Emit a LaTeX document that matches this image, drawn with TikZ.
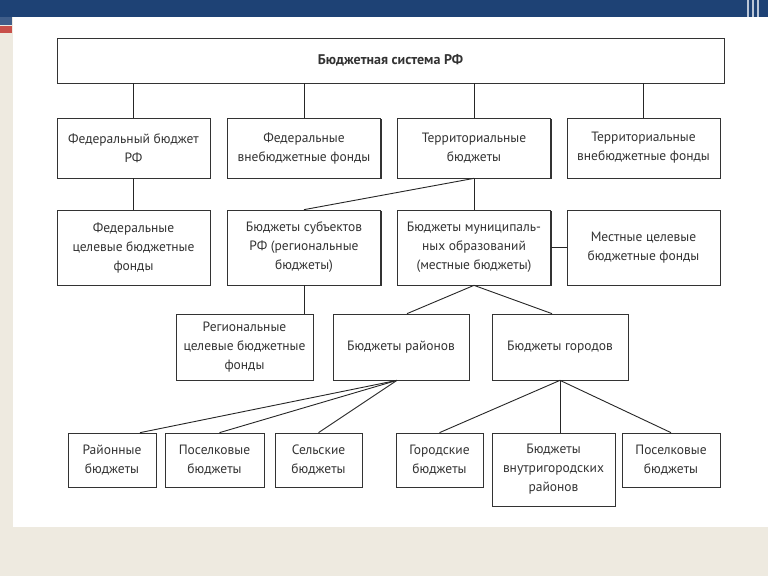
\documentclass[tikz,border=0pt]{standalone}
\usepackage{fontspec}
\setmainfont{PT Sans}
\usetikzlibrary{positioning, calc, shadows}
\definecolor{slidebg}{HTML}{EEEAE0}
\definecolor{slidebar}{HTML}{1E4275}
\definecolor{slidered}{HTML}{C8504A}
\tikzset{
  budget/.style = {draw=black!80, line width=0.7pt, fill=white, align=center,
                   font=\fontsize{13.5}{19}\selectfont, text=black!80,
                   inner sep=2pt,
                   drop shadow={shadow xshift=1.4pt, shadow yshift=-1.4pt,
                                fill=black!80, opacity=1}},
  link/.style   = {draw=black!85, line width=0.9pt}
}
\begin{document}
\begin{tikzpicture}[x=1pt, y=-1pt]
% Slide background
\fill[slidebg] (0,0) rectangle (768,576);
\fill[white] (13,17) rectangle (768,527);
\fill[slidebar] (0,0) rectangle (768,17);
\fill[slidebar!85] (0,17) rectangle (12,25);
\fill[slidered] (0,26) rectangle (12,33);
\foreach \x in {747,752,757} {
  \fill[white!70!slidebar] (\x,0) rectangle (\x+2,17);
}
\useasboundingbox (0,0) rectangle (768,576);

% Top level
\node[budget, minimum width=667pt, minimum height=45pt,
      font=\fontsize{14}{19}\selectfont\bfseries] (sys) at (390.5,60.5)
  {Бюджетная система РФ};

% First row
\foreach \x/\name/\txt in {133.5/fb/{Федеральный бюджет\\РФ},
                           304/fvf/{Федеральные\\внебюджетные фонды},
                           474/tb/{Территориальные\\бюджеты},
                           643.5/tvf/{Территориальные\\внебюджетные фонды}} {
  \node[budget, minimum width=153pt, minimum height=60pt] (\name) at (\x,148) {\txt};
  \draw[link] (\name.north) -- (\name.north |- sys.south);
}

% Second row
\foreach \x/\name/\txt in {133.5/ftf/{Федеральные\\целевые бюджетные\\фонды},
                           304/subj/{Бюджеты субъектов\\РФ (региональные\\бюджеты)},
                           474/mun/{Бюджеты муниципаль-\\ных образований\\(местные бюджеты)},
                           643.5/ltf/{Местные целевые\\бюджетные фонды}} {
  \node[budget, minimum width=153pt, minimum height=75pt] (\name) at (\x,247.5) {\txt};
}
\draw[link] (fb.south) -- (ftf.north);
\draw[link] (tb.south) -- (subj.north);
\draw[link] (tb.south) -- (mun.north);
\draw[link] (mun.east) -- (ltf.west);

% Third row
\node[budget, minimum width=137pt, minimum height=66pt] (rtf) at (244.5,347)
  {Региональные\\целевые бюджетные\\фонды};
\node[budget, minimum width=136pt, minimum height=66pt] (dist) at (401,347)
  {Бюджеты районов};
\node[budget, minimum width=136pt, minimum height=66pt] (city) at (560,347)
  {Бюджеты городов};
\draw[link] (subj.south) -- (subj.south |- rtf.north);
\draw[link] (mun.south) -- ([xshift=6pt]dist.north);
\draw[link] (mun.south) -- ([xshift=-8pt]city.north);

% Fourth row
\node[budget, minimum width=88pt, minimum height=54pt] (rayon) at (112,460)
  {Районные\\бюджеты};
\node[budget, minimum width=99pt, minimum height=54pt] (posel) at (214.5,460)
  {Поселковые\\бюджеты};
\node[budget, minimum width=87pt, minimum height=54pt] (selo) at (318.5,460)
  {Сельские\\бюджеты};
\node[budget, minimum width=87pt, minimum height=54pt] (gorod) at (439.5,460)
  {Городские\\бюджеты};
\node[budget, minimum width=123pt, minimum height=73pt] (vnutr) at (553.5,469.5)
  {Бюджеты\\внутригородских\\районов};
\node[budget, minimum width=98pt, minimum height=54pt] (posel2) at (671,460)
  {Поселковые\\бюджеты};

\coordinate (dapex) at ([xshift=-4pt]dist.south);
\draw[link] (dapex) -- ([xshift=28pt]rayon.north);
\draw[link] (dapex) -- ([xshift=5pt]posel.north);
\draw[link] (dapex) -- (selo.north);
\draw[link] (city.south) -- (gorod.north);
\draw[link] (city.south) -- (city.south |- vnutr.north);
\draw[link] (city.south) -- (posel2.north);
\end{tikzpicture}
\end{document}
